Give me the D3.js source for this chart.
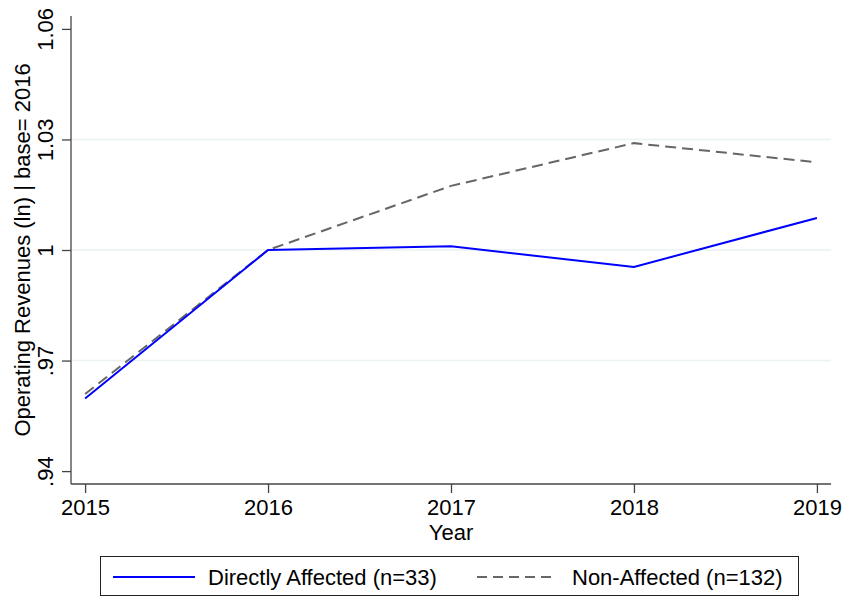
<!DOCTYPE html>
<html>
<head>
<meta charset="utf-8">
<script src="https://cdn.jsdelivr.net/npm/d3@7"></script>
<style>
  body { margin: 0; background: #fff; }
  text { font-family: "Liberation Sans", Arial, sans-serif; fill: #000; }
</style>
</head>
<body>
<div id="chart"></div>
<script>
// data
const years = [2015, 2016, 2017, 2018, 2019];
const directlyAffected = [0.9597, 1.0, 1.001, 0.9954, 1.0087];
const nonAffected = [0.9609, 1.0, 1.0174, 1.029, 1.0238];
const yTicks = [0.94, 0.97, 1.0, 1.03, 1.06];
const yTickLabels = ['.94', '.97', '1', '1.03', '1.06'];
const seriesNames = ['Directly Affected (n=33)', 'Non-Affected (n=132)'];

const width = 844, height = 597;
const fontSize = '22px';

const svg = d3.select('#chart')
  .append('svg')
  .attr('width', width)
  .attr('height', height);

const x = d3.scaleLinear().domain([2014.923, 2019.077]).range([71, 831]);
const y = d3.scaleLinear().domain([0.9365, 1.0635]).range([484, 16]);

// grid lines
svg.append('g')
  .selectAll('line')
  .data(yTicks.filter(d => d > 0.95 && d < 1.05))
  .enter()
  .append('line')
  .attr('x1', 72).attr('x2', 831)
  .attr('y1', d => y(d)).attr('y2', d => y(d))
  .attr('stroke', '#eaf2f3')
  .attr('stroke-width', 1.5);

// y axis
const yAxis = d3.axisLeft(y)
  .tickValues(yTicks)
  .tickSize(9)
  .tickFormat((d, i) => yTickLabels[i]);
const gy = svg.append('g')
  .attr('transform', 'translate(71,0)')
  .call(yAxis);
gy.select('.domain').attr('stroke', '#444').attr('stroke-width', 1.3).attr('d', 'M0,16V484');
gy.selectAll('.tick line').attr('stroke', '#444').attr('stroke-width', 1.3);
gy.selectAll('.tick text')
  .attr('x', null).attr('dy', null)
  .attr('transform', 'translate(-18,0) rotate(-90)')
  .attr('text-anchor', 'middle')
  .style('font-size', fontSize)
  .style('font-family', '"Liberation Sans", Arial, sans-serif')
  .attr('fill', '#000');

// x axis
const xAxis = d3.axisBottom(x)
  .tickValues(years)
  .tickSize(9)
  .tickFormat(d3.format('d'));
const gx = svg.append('g')
  .attr('transform', 'translate(0,484)')
  .call(xAxis);
gx.select('.domain').attr('stroke', '#444').attr('stroke-width', 1.3).attr('d', 'M71,0H831');
gx.selectAll('.tick line').attr('stroke', '#444').attr('stroke-width', 1.3);
gx.selectAll('.tick text')
  .attr('y', 31).attr('dy', null)
  .style('font-size', fontSize)
  .style('font-family', '"Liberation Sans", Arial, sans-serif')
  .attr('fill', '#000');

// axis titles
svg.append('text')
  .attr('x', 451).attr('y', 540)
  .attr('text-anchor', 'middle')
  .style('font-size', fontSize)
  .text('Year');

svg.append('text')
  .attr('transform', 'translate(30,250) rotate(-90)')
  .attr('text-anchor', 'middle')
  .style('font-size', fontSize)
  .text('Operating Revenues (ln) | base= 2016');

// lines
const line = d3.line()
  .x((d, i) => x(years[i]))
  .y(d => y(d));

svg.append('path')
  .datum(nonAffected)
  .attr('d', line)
  .attr('fill', 'none')
  .attr('stroke', '#666')
  .attr('stroke-width', 2)
  .attr('stroke-dasharray', '11,6');

svg.append('path')
  .datum(directlyAffected)
  .attr('d', line)
  .attr('fill', 'none')
  .attr('stroke', '#0000ff')
  .attr('stroke-width', 2);

// legend
const legend = svg.append('g');
legend.append('rect')
  .attr('x', 100.5).attr('y', 556.5)
  .attr('width', 698).attr('height', 39)
  .attr('fill', '#fff')
  .attr('stroke', '#222')
  .attr('stroke-width', 1);

const legendItems = [
  { name: seriesNames[0], color: '#0000ff', dash: null, x1: 113, x2: 195, tx: 208 },
  { name: seriesNames[1], color: '#666', dash: '10,6', x1: 477, x2: 557, tx: 572 }
];
legendItems.forEach(item => {
  legend.append('line')
    .attr('x1', item.x1).attr('x2', item.x2)
    .attr('y1', 577).attr('y2', 577)
    .attr('stroke', item.color)
    .attr('stroke-width', 2)
    .attr('stroke-dasharray', item.dash);
  legend.append('text')
    .attr('x', item.tx).attr('y', 585)
    .style('font-size', fontSize)
    .text(item.name);
});
</script>
</body>
</html>
